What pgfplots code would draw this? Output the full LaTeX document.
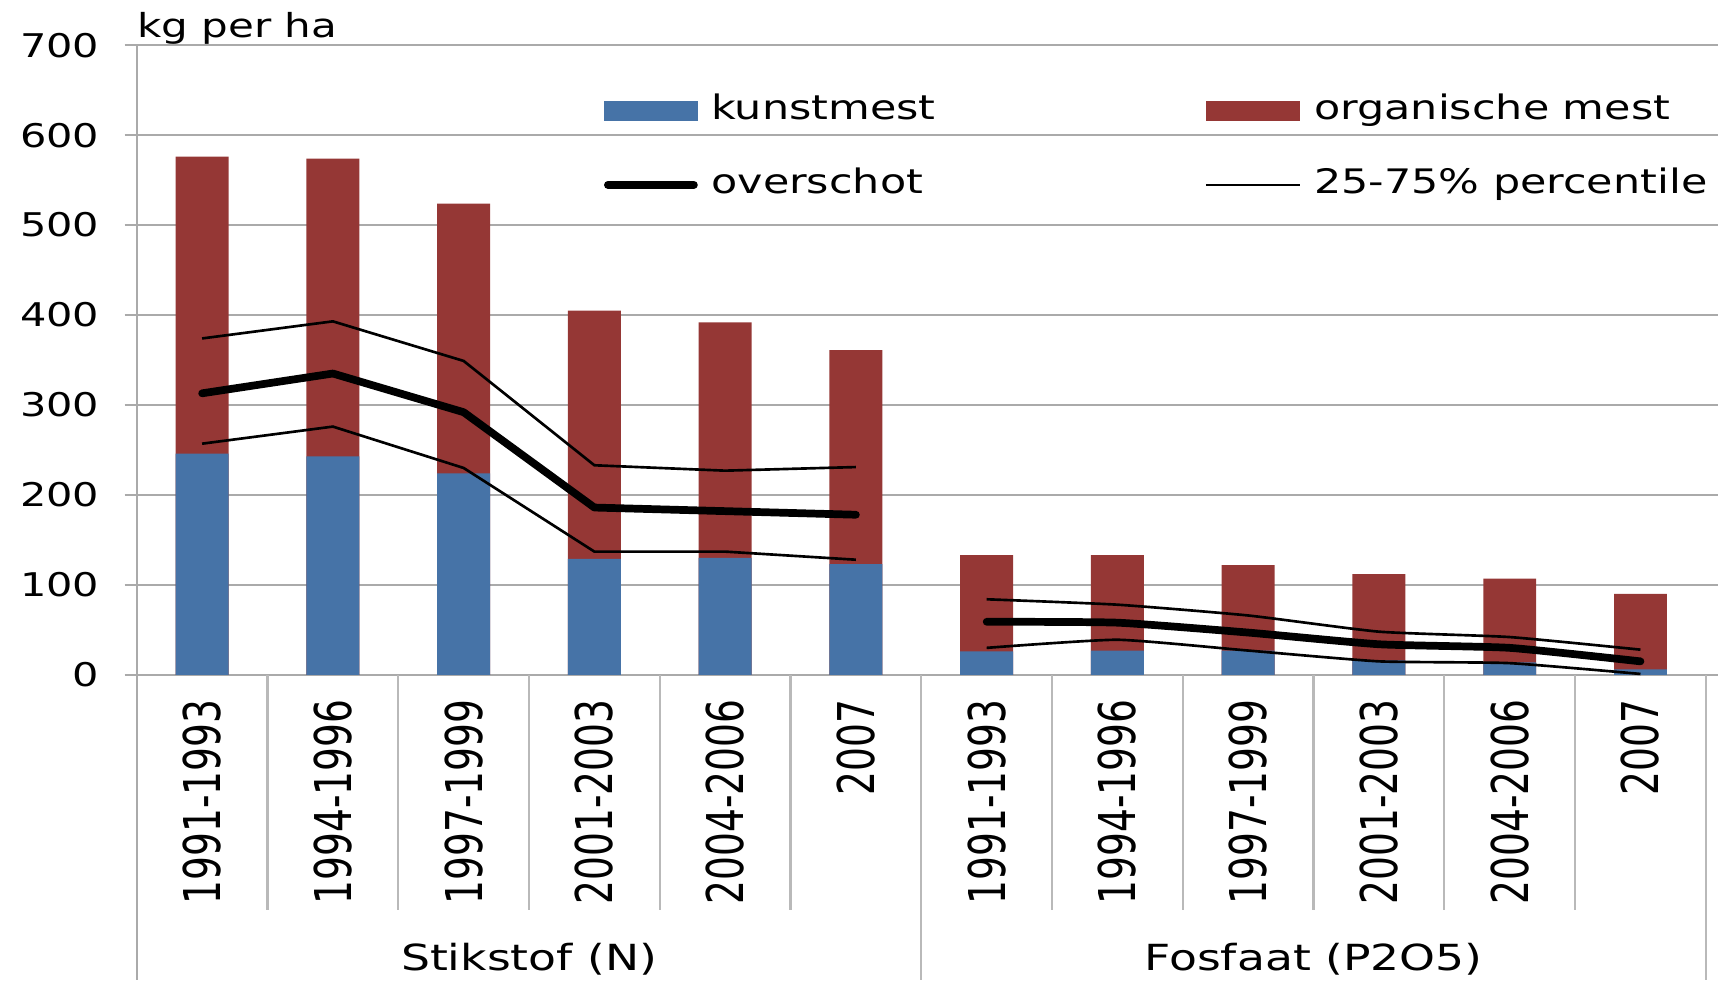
\documentclass[border=0pt]{standalone}
\usepackage{fontspec}
\setmainfont{DejaVu Sans}[FakeStretch=1.27]
\newfontfamily\rotfont{DejaVu Sans}[FakeStretch=0.74]
\usepackage{pgfplots}
\pgfplotsset{compat=1.18}
\definecolor{kblue}{RGB}{70,115,167}
\definecolor{ored}{RGB}{149,55,53}
\definecolor{gridgray}{RGB}{170,170,170}
\definecolor{sepgray}{RGB}{185,185,185}
\begin{document}
\begin{tikzpicture}
\begin{axis}[
  scale only axis, width=711.5pt, height=285.5pt,
  xmin=-0.5, xmax=11.5, ymin=0, ymax=700,
  ytick={0,100,...,700},
  xtick={0,...,11},
  xticklabels={1991-1993,1994-1996,1997-1999,2001-2003,2004-2006,2007,1991-1993,1994-1996,1997-1999,2001-2003,2004-2006,2007},
  xticklabel style={font=\rotfont\fontsize{23}{23}\selectfont, rotate=90, anchor=east, inner sep=0pt},
  xticklabel shift=5.5pt,
  x tick style={draw=none},
  ymajorgrids, grid style={gridgray, line width=1pt},
  y tick style={gridgray, line width=1pt},
  tick align=outside, major tick length=5.5pt,
  yticklabel style={font=\fontsize{14.8}{14.8}\selectfont, xshift=-8pt},
  /pgf/number format/assume math mode=true,
  axis line style={draw=none},
  clip=false,
  legend columns=2,
  legend style={draw=none, fill=none, inner sep=0pt,
    font=\fontsize{15.3}{15.3}\selectfont,
    at={(axis cs:3.067,644.5)}, anchor=north west,
    legend cell align=left,
    nodes={inner sep=0pt, text height=11pt, text depth=3pt},
    row sep=19.5pt,
    /tikz/every odd column/.append style={column sep=6pt},
    /tikz/every even column/.append style={column sep=122pt}},
]
\addlegendimage{legend image code/.code={\fill[kblue] (0pt,-4.5pt) rectangle (42.5pt,4.5pt);}}
\addlegendentry{kunstmest}
\addlegendimage{legend image code/.code={\fill[ored] (0pt,-4.5pt) rectangle (42.5pt,4.5pt);}}
\addlegendentry{organische mest}
\addlegendimage{legend image code/.code={\draw[black, line width=3.5pt, line cap=round] (1.75pt,0pt) -- (40.75pt,0pt);}}
\addlegendentry{overschot}
\addlegendimage{legend image code/.code={\draw[black, line width=1.2pt] (0pt,0pt) -- (42.5pt,0pt);}}
\addlegendentry{25-75\% percentile}

% decorative separators
\draw[gridgray, line width=1pt] (axis cs:-0.5,700) -- (axis cs:-0.5,0) -- ++(0pt,-138.5pt);
\pgfplotsinvokeforeach{0.5,1.5,2.5,3.5,4.5,6.5,7.5,8.5,9.5,10.5}{
  \draw[sepgray, line width=1pt] (axis cs:#1,0) -- ++(0pt,-106.5pt);}
\pgfplotsinvokeforeach{5.5,11.5}{
  \draw[sepgray, line width=1pt] (axis cs:#1,0) -- ++(0pt,-138.5pt);}

% totals (organische mest on top of kunstmest)
\addplot[ybar, bar width=24pt, bar shift=0pt, fill=ored, draw=none, forget plot] coordinates {
 (0,576) (1,574) (2,524) (3,405) (4,392) (5,361)
 (6,133) (7,133) (8,122) (9,112) (10,107) (11,90)};
% kunstmest
\addplot[ybar, bar width=24pt, bar shift=0pt, fill=kblue, draw=none, forget plot] coordinates {
 (0,246) (1,243) (2,224) (3,129) (4,130) (5,123)
 (6,26) (7,27) (8,27) (9,16) (10,14) (11,6)};

% Stikstof lines
\addplot[black, line width=1.2pt, forget plot] coordinates {(0,374) (1,393) (2,349) (3,233) (4,227) (5,231)};
\addplot[black, line width=1.2pt, forget plot] coordinates {(0,257) (1,276) (2,230) (3,137) (4,137) (5,128)};
\addplot[black, line width=3.5pt, line join=round, line cap=round, forget plot] coordinates {(0,313) (1,335) (2,292) (3,186) (4,182) (5,178)};
% Fosfaat lines
\addplot[black, line width=1.2pt, smooth, tension=0.3, forget plot] coordinates {(6,84) (7,78) (8,66) (9,48) (10,42) (11,28)};
\addplot[black, line width=1.2pt, smooth, tension=0.3, forget plot] coordinates {(6,30) (7,39) (8,27) (9,15) (10,13) (11,1)};
\addplot[black, line width=3.5pt, line cap=round, smooth, tension=0.3, forget plot] coordinates {(6,59) (7,58) (8,47) (9,34) (10,30) (11,15)};

\node[anchor=base west, inner sep=0pt, font=\fontsize{15}{15}\selectfont, yshift=3.5pt] at (axis cs:-0.5,700) {kg per ha};
\node[anchor=base, inner sep=0pt, font=\fontsize{16.3}{16.3}\selectfont, yshift=-134pt] at (axis cs:2.5,0) {Stikstof (N)};
\node[anchor=base, inner sep=0pt, font=\fontsize{16.3}{16.3}\selectfont, yshift=-134pt] at (axis cs:8.5,0) {Fosfaat (P2O5)};

\coordinate (SW) at (axis cs:-0.5,0);
\coordinate (NE) at (axis cs:11.5,700);
\end{axis}
\pgfresetboundingbox
\path ([shift={(-62pt,-138.5pt)}]SW) rectangle ([shift={(10.5pt,20.5pt)}]NE);
\end{tikzpicture}
\end{document}
